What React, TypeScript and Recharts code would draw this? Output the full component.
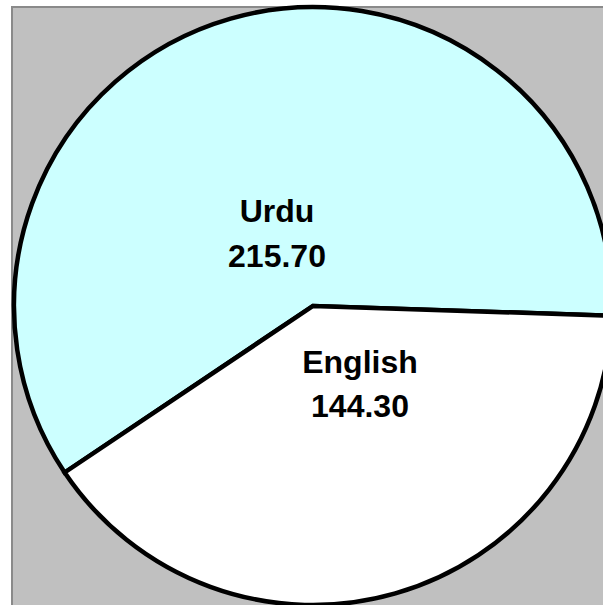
import React from "react";
import { PieChart, Pie, Cell } from "recharts";

const languages = ["Urdu", "English"];
const values = [215.7, 144.3];
const colors = ["#CCFFFF", "#FFFFFF"];
// label offsets relative to pie center (layout only)
const labelOffsets = [
  { dx: -36, dy1: -84, dy2: -39 },
  { dx: 47, dy1: 67, dy2: 111 },
];

const data = languages.map((name, i) => ({ name, value: values[i] }));

const renderLabel = (props: any) => {
  const { cx, cy, index, name, value } = props;
  const o = labelOffsets[index];
  const common = {
    textAnchor: "middle" as const,
    fontFamily: "'Liberation Sans', Arial, sans-serif",
    fontWeight: "bold",
    fontSize: 32,
    fill: "#000",
  };
  return (
    <g>
      <text x={cx + o.dx} y={cy + o.dy1} {...common}>
        {name}
      </text>
      <text x={cx + o.dx} y={cy + o.dy2} {...common}>
        {Number(value).toFixed(2)}
      </text>
    </g>
  );
};

export default function App() {
  return (
    <div style={{ position: "absolute", left: 0, top: 0, width: 603, height: 605, overflow: "hidden", background: "#FFFFFF" }}>
      <div
        style={{
          position: "absolute",
          left: 11,
          top: 6,
          width: 603,
          height: 605,
          background: "#C0C0C0",
          borderLeft: "2px solid #8A8A8A",
          borderTop: "2px solid #8A8A8A",
        }}
      />
      <div style={{ position: "absolute", left: 0, top: 0 }}>
        <PieChart width={603} height={605} margin={{ top: 0, right: 0, bottom: 0, left: 0 }}>
          <Pie
            data={data}
            dataKey="value"
            nameKey="name"
            cx={313}
            cy={306}
            innerRadius={0}
            outerRadius={299}
            startAngle={-1.86}
            endAngle={358.14}
            stroke="#000000"
            strokeWidth={4.5}
            labelLine={false}
            label={renderLabel}
            isAnimationActive={false}
          >
            {data.map((d, i) => (
              <Cell key={d.name} fill={colors[i]} stroke="#000000" strokeWidth={4.5} />
            ))}
          </Pie>
        </PieChart>
      </div>
    </div>
  );
}
